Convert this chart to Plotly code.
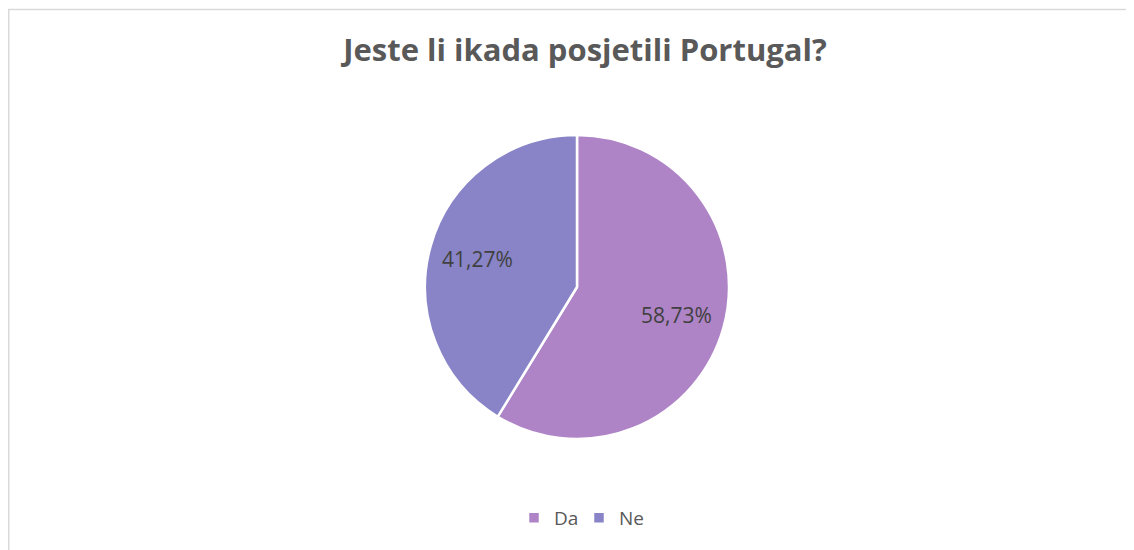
import plotly.graph_objects as go

categories = ["Da", "Ne"]
values = [58.73, 41.27]
value_labels = ["58,73%", "41,27%"]
colors = ["#AE84C6", "#8884C7"]

# page body has an 8px margin; figure coordinates are offset by it
OFF = 8
W, H = 1134 - OFF, 550 - OFF
cx, cy, r = 577 - OFF, 287 - OFF, 152

FONT = "Open Sans"
domain = dict(x=[(cx - r) / W, (cx + r) / W], y=[1 - (cy + r) / H, 1 - (cy - r) / H])

common = dict(
    labels=categories,
    values=values,
    sort=False,
    direction="clockwise",
    rotation=0,
    domain=domain,
)

# coloured pie with white separators
base = go.Pie(
    **common,
    marker=dict(colors=colors, line=dict(color="white", width=2.5)),
    textinfo="none",
    hoverinfo="label+percent",
)
# transparent ring on top that only carries the data labels, placed further out
ring = go.Pie(
    **common,
    hole=0.36,
    marker=dict(colors=["rgba(0,0,0,0)"] * len(categories), line=dict(width=0)),
    text=value_labels,
    textinfo="text",
    textposition="inside",
    insidetextorientation="horizontal",
    textfont=dict(family=FONT, size=21, color="#404040"),
    hoverinfo="skip",
    showlegend=False,
)

fig = go.Figure([base, ring])

fig.update_layout(
    width=W, height=H,
    margin=dict(l=0, r=0, t=0, b=0),
    paper_bgcolor="white",
    plot_bgcolor="white",
    title=dict(
        text="<b>Jeste li ikada posjetili Portugal?</b>",
        x=(585 - OFF) / W, xanchor="center",
        y=1 - (50 - OFF) / H, yanchor="middle",
        font=dict(family=FONT, size=31, color="#595959"),
    ),
    legend=dict(
        orientation="h",
        x=(579 - OFF) / W, xanchor="center",
        y=1 - (518 - OFF) / H, yanchor="middle",
        font=dict(family=FONT, size=19, color="#595959"),
        traceorder="normal",
        entrywidth=20,
    ),
    shapes=[dict(
        type="rect", xref="paper", yref="paper",
        x0=0.75 / W, x1=1.01, y0=-0.02, y1=1 - 1.5 / H,
        line=dict(color="#D9D9D9", width=1.5),
        fillcolor="rgba(0,0,0,0)",
    )],
)

fig.write_html("out.html")
